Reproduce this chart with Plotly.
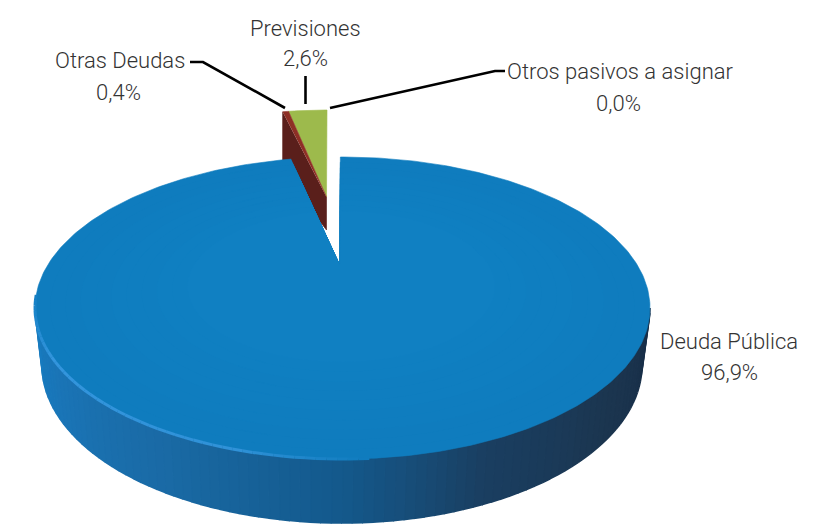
import numpy as np
import plotly.graph_objects as go

categories = ["Deuda Pública", "Otras Deudas", "Previsiones", "Otros pasivos a asignar"]
shares = [96.9, 0.4, 2.6, 0.0]
top_colors = ["#0f7ec0", "#8e2f25", "#9dba4c", "#c9d98a"]

W, H = 823, 524
PAGE_MARGIN = 8
TEXT = "#333333"
FONT = "Roboto"

# pie geometry (in axis units = page pixels)
CX, CY, RX, RY = 342.5, 308, 307.5, 151
LOW_CX, LOW_CY, LOW_RX, LOW_RY = 342, 365, 300, 158
APEX = (340, 265)
EX_CX, EX_CY, EX_RX, EX_RY = 327, 246, 277, 136
EX_APEX = (326.5, 197)
START = -0.47
WARP = 0.85

total = sum(shares)
sweeps = [s / total * 360 for s in shares]


def warp(deg):
    t = np.radians(deg)
    return np.arctan2(WARP * np.sin(t), np.cos(t))


def rim(deg, cx=CX, cy=CY, rx=RX, ry=RY):
    p = np.unwrap(warp(deg))
    return cx + rx * np.sin(p), cy - ry * np.cos(p)


def poly(xs, ys, color, lw=0.6):
    return go.Scatter(x=xs, y=ys, mode="lines", fill="toself", fillcolor=color,
                      line=dict(color=color, width=lw), hoverinfo="skip")


def mix(stops, v):
    pos = [s[0] for s in stops]
    ch = [np.interp(v, pos, [s[1][i] for s in stops]) for i in range(3)]
    return "rgb(%d,%d,%d)" % tuple(ch)


fig = go.Figure()

# brown cut face of the exploded slices
bx, by = rim(np.array([-sweeps[2] - sweeps[1]]), EX_CX, EX_CY, EX_RX, EX_RY)
fig.add_trace(poly([bx[0], bx[0], EX_APEX[0], EX_APEX[0]],
                   [by[0], by[0] + 62, EX_APEX[1] + 33, EX_APEX[1]], "#5a1f1b"))

# green top
deg = np.linspace(0, -sweeps[2], 20)
gx, gy = rim(deg, EX_CX, EX_CY, EX_RX, EX_RY)
fig.add_trace(poly([EX_APEX[0], *gx], [EX_APEX[1], *gy], top_colors[2]))

# brown top
deg = np.linspace(-sweeps[2], -sweeps[2] - sweeps[1], 6)
tx, ty = rim(deg, EX_CX, EX_CY, EX_RX, EX_RY)
fig.add_trace(poly([EX_APEX[0], *tx], [EX_APEX[1], *ty], top_colors[1]))

# side wall of the main slice
side_stops = [(90, (24, 46, 72)), (120, (28, 54, 80)), (153, (26, 63, 98)),
              (169, (23, 79, 124)), (180, (20, 89, 140)), (215, (26, 106, 165)),
              (250, (26, 118, 184)), (270, (24, 124, 192))]
edges = np.linspace(90, 270, 91)
for a, b in zip(edges[:-1], edges[1:]):
    d = np.array([a, b])
    x0, y0 = CX + RX * np.sin(np.radians(d)), CY - RY * np.cos(np.radians(d))
    x1, y1 = LOW_CX + LOW_RX * np.sin(np.radians(d)), LOW_CY - LOW_RY * np.cos(np.radians(d))
    fig.add_trace(poly([x0[0], x0[1], x1[1], x1[0]], [y0[0], y0[1], y1[1], y1[0]],
                       mix(side_stops, (a + b) / 2), lw=1.6))

# top of the main slice, layered toward the apex
deg = np.linspace(START, START + sweeps[0], 400)
mx, my = rim(deg)
top_stops = [(0.5, (16, 128, 194)), (1.0, (15, 124, 190))]
for k in np.linspace(1.0, 0.5, 11):
    xs = APEX[0] + k * (mx - APEX[0])
    ys = APEX[1] + k * (my - APEX[1])
    fig.add_trace(poly([APEX[0], *xs], [APEX[1], *ys], mix(top_stops, k)))

# rim highlight on the front-left edge
glow_stops = [(175, (15, 124, 190)), (200, (48, 146, 216)), (250, (52, 150, 222)), (275, (20, 128, 196))]
edges = np.linspace(175, 275, 51)
for a, b in zip(edges[:-1], edges[1:]):
    d = np.radians(np.array([a, b]))
    fig.add_trace(go.Scatter(x=CX + RX * np.sin(d), y=CY - RY * np.cos(d), mode="lines",
                             line=dict(color=mix(glow_stops, (a + b) / 2), width=3),
                             hoverinfo="skip"))

# leader lines
leaders = [
    ([190, 203, 285], [62, 62, 108]),
    ([305.5, 305.5], [76, 104]),
    ([330, 495, 505], [108, 71, 71]),
]
for xs, ys in leaders:
    fig.add_trace(go.Scatter(x=xs, y=ys, mode="lines", line=dict(color="#000000", width=2.6),
                             hoverinfo="skip"))

label_pos = {
    "Deuda Pública": (729, 341, 729, 372),
    "Otras Deudas": (119.5, 60, 118, 92),
    "Previsiones": (305, 28, 305, 58),
    "Otros pasivos a asignar": (620, 71, 618, 103),
}
anns = []
for c, v in zip(categories, shares):
    x0, y0, x1, y1 = label_pos[c]
    for txt, x, y in ((c, x0, y0), (f"{v:.1f}%".replace(".", ","), x1, y1)):
        anns.append(dict(x=x, y=y, text=txt, showarrow=False, xanchor="center", yanchor="middle",
                         font=dict(family=FONT, size=22, color=TEXT, weight=300)))

fig.update_layout(
    width=W - PAGE_MARGIN, height=H - PAGE_MARGIN, autosize=False, margin=dict(l=0, r=0, t=0, b=0),
    paper_bgcolor="#ffffff", plot_bgcolor="#ffffff", showlegend=False, hovermode=False,
    xaxis=dict(range=[PAGE_MARGIN, W], visible=False, fixedrange=True),
    yaxis=dict(range=[H, PAGE_MARGIN], visible=False, fixedrange=True),
    annotations=anns,
)
fig.write_html("out.html", config={"displayModeBar": False})
